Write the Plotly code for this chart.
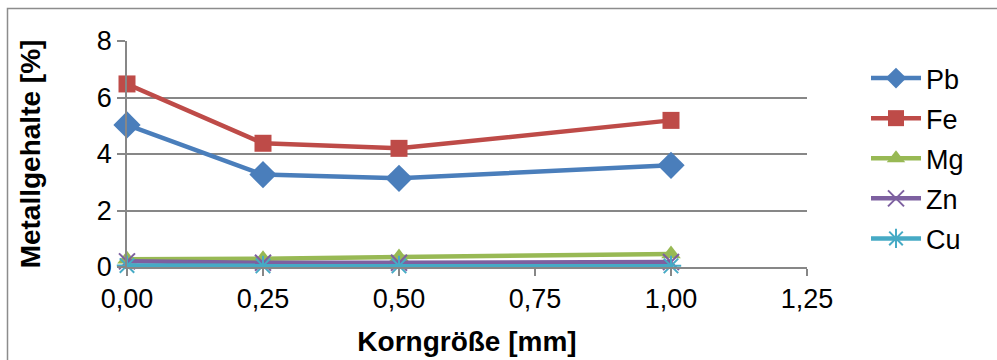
import plotly.graph_objects as go

# Grain size classes [mm] and metal contents [%]
korngroesse = [0.0, 0.25, 0.5, 1.0]
pb = [5.03, 3.27, 3.14, 3.60]
fe = [6.48, 4.38, 4.20, 5.19]
mg = [0.27, 0.29, 0.35, 0.46]
zn = [0.20, 0.15, 0.15, 0.18]
cu = [0.05, 0.04, 0.04, 0.04]

x_ticks = [0.0, 0.25, 0.5, 0.75, 1.0, 1.25]
x_ticktext = ["0,00", "0,25", "0,50", "0,75", "1,00", "1,25"]
y_ticks = [0, 2, 4, 6, 8]

series = [
    ("Pb", pb, "#4A7EBB", dict(symbol="diamond", size=21)),
    ("Fe", fe, "#BE4B48", dict(symbol="square", size=17)),
    ("Mg", mg, "#98B954", dict(symbol="triangle-up", size=17)),
    ("Zn", zn, "#7D60A0", dict(symbol="x-thin", size=16, line=dict(width=2, color="#7D60A0"))),
    ("Cu", cu, "#46AAC5", dict(symbol="asterisk", size=17, line=dict(width=2, color="#46AAC5"))),
]

FONT = "Liberation Sans, Arial, sans-serif"

fig = go.Figure()
for name, vals, color, marker in series:
    m = dict(color=color, **marker)
    fig.add_trace(go.Scatter(
        x=korngroesse, y=vals, name=name, mode="lines+markers",
        line=dict(color=color, width=4.5), marker=m,
        legendgroup=name, cliponaxis=False,
    ))

L, R, T, B = 127, 190, 41, 93
W, H = 997, 360
pw, ph = W - L - R, H - T - B

fig.update_layout(
    width=W, height=H,
    margin=dict(l=L, r=R, t=T, b=B, autoexpand=False),
    paper_bgcolor="white", plot_bgcolor="white",
    font=dict(family=FONT, size=27, color="black"),
    showlegend=True,
    legend=dict(
        x=(866 - L) / pw, y=(267 - 54) / ph, xanchor="left", yanchor="top",
        font=dict(size=27), tracegroupgap=2, itemwidth=50,
        bgcolor="rgba(0,0,0,0)",
    ),
    xaxis=dict(
        range=[0, 1.25], tickvals=x_ticks, ticktext=x_ticktext,
        showgrid=False, zeroline=False, automargin=False,
        showline=True, linecolor="#878787", linewidth=1.5,
        ticks="outside", ticklen=7, tickcolor="#878787", tickwidth=1.5,
        tickfont=dict(size=27),
        title=dict(text="<b>Korngröße [mm]</b>", font=dict(size=28), standoff=18),
    ),
    yaxis=dict(
        range=[0, 8], tickvals=y_ticks,
        showgrid=True, gridcolor="#878787", gridwidth=1.5,
        zeroline=False, automargin=False,
        showline=True, linecolor="#878787", linewidth=1.5,
        ticks="outside", ticklen=8, tickcolor="#878787", tickwidth=1.5,
        tickfont=dict(size=27),
        title=dict(text="<b>Metallgehalte [%]</b>", font=dict(size=28), standoff=48),
    ),
)

# Chart frame (left and top edges)
fig.add_shape(
    type="rect", xref="paper", yref="paper",
    x0=(7.5 - L) / pw, x1=(W + 20 - L) / pw,
    y0=(267 - (H + 20)) / ph, y1=(267 - 8.5) / ph,
    line=dict(color="#8C8C8C", width=1.5), fillcolor="rgba(0,0,0,0)", layer="below",
)

fig.write_html("out.html")
